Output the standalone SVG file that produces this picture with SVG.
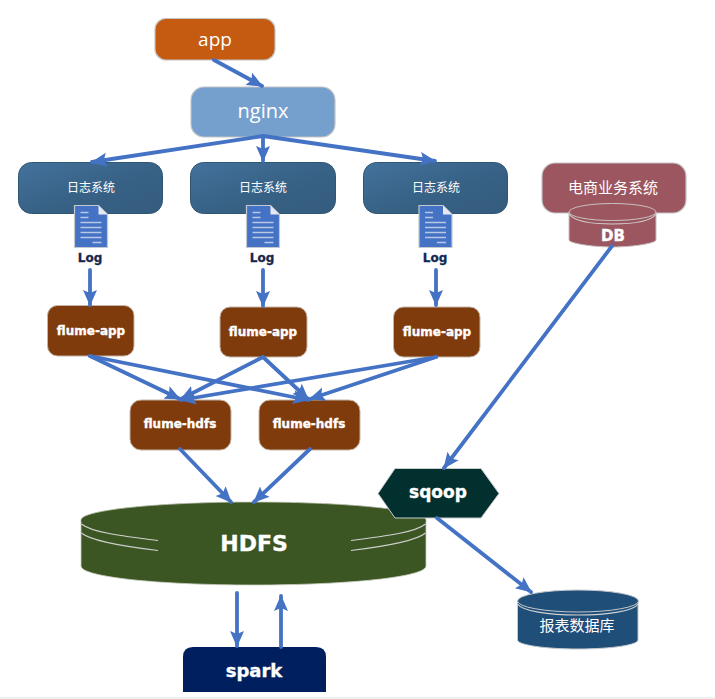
<svg xmlns="http://www.w3.org/2000/svg" width="715" height="699" viewBox="0 0 715 699">
<defs>
<style>
.b{stroke:#c4c4c4;stroke-width:1.2}
.sys{fill:url(#g);stroke:#2f5673;stroke-width:1}
.fl{fill:#7f3b0c;stroke:#c4b5a8;stroke-width:1}
.t{font-family:"DejaVu Sans","Noto Sans CJK SC",sans-serif;font-weight:700;fill:#fff;text-anchor:middle;stroke:#fff;stroke-width:.35}
.n{font-family:"Open Sans","Noto Sans CJK SC",sans-serif;fill:#fff;text-anchor:middle}
.c{font-family:"Noto Sans CJK SC",sans-serif;fill:#fff;text-anchor:middle}
.log{font-family:"DejaVu Sans",sans-serif;font-weight:700;font-size:12px;fill:#14284f;stroke:#14284f;stroke-width:.3;text-anchor:middle}
.arc{fill:none;stroke:#d0d0d0;stroke-width:1.1}
.doc{fill:#4472c4;stroke:#c4c8d0;stroke-width:1.2}
.dl{stroke:#b9c7e6;stroke-width:1.4}
#connectors line{stroke:#4472c4;stroke-width:3.8;stroke-linecap:round;marker-end:url(#a)}
</style>
<linearGradient id="g" x1="0" y1="0" x2="1" y2="1"><stop offset="0" stop-color="#44729c"/><stop offset=".55" stop-color="#376185"/><stop offset="1" stop-color="#345c7e"/></linearGradient>
<marker id="a" markerUnits="userSpaceOnUse" markerWidth="18" markerHeight="18" refX="15" refY="8" orient="auto"><path d="M0 1L16 8L0 15L3 8Z" fill="#4472c4"/></marker>
<g id="docicon"><path class="doc" d="M0 0H24L33 9V42H0Z"/><path d="M24 0L33 9H24Z" fill="#e4e8f2"/><path class="dl" d="M6 7H14M6 12H14M6 17H27M6 22H27M6 27H27M6 32H27M18 37H27"/></g>
</defs>
<rect width="715" height="699" fill="#fff"/>
<rect y="697" width="715" height="2" fill="#f0f0f0"/>

<g id="node-app"><rect class="b" x="155" y="18.500" width="120" height="41.500" rx="11" fill="#c55a11"/><text class="n" x="215" y="46" font-size="19">app</text></g>
<g id="node-nginx"><rect class="b" x="191" y="87" width="144" height="50" rx="13" fill="#759fcd"/><text class="n" x="263" y="118" font-size="20">nginx</text></g>

<g id="node-log1"><rect class="sys" x="18.500" y="162.500" width="144" height="51" rx="13"/><text class="c" x="91" y="192" font-size="12">日志系统</text></g>
<g id="node-log2"><rect class="sys" x="190.500" y="162.500" width="145" height="51" rx="13"/><text class="c" x="263" y="192" font-size="12">日志系统</text></g>
<g id="node-log3"><rect class="sys" x="363.500" y="162.500" width="144" height="51" rx="13"/><text class="c" x="436" y="192" font-size="12">日志系统</text></g>

<g id="node-file1"><use href="#docicon" x="74.500" y="205.500"/><text class="log" x="90" y="262">Log</text></g>
<g id="node-file2"><use href="#docicon" x="246.500" y="205.500"/><text class="log" x="262" y="262">Log</text></g>
<g id="node-file3"><use href="#docicon" x="419" y="205.500"/><text class="log" x="435" y="262">Log</text></g>

<g id="node-biz"><rect class="b" x="542" y="163" width="144" height="50" rx="13" fill="#9c5660"/><text class="c" x="613" y="193" font-size="15">电商业务系统</text></g>
<g id="node-db"><path d="M569 212V240C569 243 590 247 612.500 247S656 243 656 240V212Z" fill="#9c5660" stroke="#c9c0c0"/><ellipse cx="612.500" cy="212" rx="43.500" ry="8.500" fill="#9c5660" stroke="#c9c0c0"/><path class="arc" d="M569 214C574 221 592 224 612.500 224S651 221 656 214"/><text class="t" x="613" y="241" font-size="15">DB</text></g>

<g id="node-fa1"><rect class="fl" x="47.500" y="305.500" width="86.500" height="50.500" rx="10"/><text class="t" x="91" y="335" font-size="12">flume-app</text></g>
<g id="node-fa2"><rect class="fl" x="220" y="307" width="87" height="50" rx="10"/><text class="t" x="263" y="336" font-size="12">flume-app</text></g>
<g id="node-fa3"><rect class="fl" x="393.500" y="307" width="86.500" height="50" rx="10"/><text class="t" x="437" y="336" font-size="12">flume-app</text></g>
<g id="node-fh1"><rect class="fl" x="130" y="400" width="101" height="50" rx="11"/><text class="t" x="180" y="428" font-size="12">flume-hdfs</text></g>
<g id="node-fh2"><rect class="fl" x="259" y="400" width="101" height="50" rx="11"/><text class="t" x="309" y="428" font-size="12">flume-hdfs</text></g>

<g id="node-hdfs"><path d="M81 520V566C81 577 158 585 253.500 585S426 577 426 566V520Z" fill="#3b5623" stroke="#c9cdc0" stroke-width=".8"/><ellipse cx="253.500" cy="520" rx="172.500" ry="18" fill="#3b5623"/><path d="M81 520C81 510 158 502 253.500 502S426 510 426 520" fill="#3b5623" stroke="#c9cdc0" stroke-width=".8"/>
<path class="arc" d="M81.500 524C91 532 120 536 158 540.500M81.500 533C91 541 120 546 158 550.500M351 540.500C388 536 416 532 425.500 524M351 550.500C388 546 416 541 425.500 533"/><text class="t" x="254" y="551" font-size="22">HDFS</text></g>

<g id="node-sqoop"><path d="M378 493.500L395 468.500H481L499 493.500L481 518H395Z" fill="#02302f" stroke="#c8cccc"/><text class="t" x="438" y="498" font-size="17">sqoop</text></g>

<g id="node-report"><path d="M517.500 601V640C517.500 645 545 649 578 649S638 645 638 640V601Z" fill="#1f4e79" stroke="#c4c8cc"/><ellipse cx="578" cy="601" rx="60.500" ry="11" fill="#1f4e79" stroke="#c4c8cc"/><path class="arc" d="M517.500 604C522 611 548 615 578 615S634 611 638 604"/><text class="c" x="577" y="631" font-size="15">报表数据库</text></g>

<g id="node-spark"><path d="M183 692V657Q183 647 193 647H316Q326 647 326 657V692Z" fill="#001f5f"/><text class="t" x="254" y="677" font-size="18">spark</text></g>

<g id="connectors">
<line x1="214" y1="60" x2="262" y2="86"/>
<line x1="263" y1="136" x2="92" y2="162"/>
<line x1="263" y1="136" x2="263" y2="161"/>
<line x1="263" y1="136" x2="435" y2="161"/>
<line x1="90" y1="270" x2="90" y2="305"/>
<line x1="263" y1="270" x2="263" y2="306"/>
<line x1="436" y1="270" x2="436" y2="305"/>
<line x1="90" y1="356" x2="180" y2="399"/>
<line x1="90" y1="356" x2="308" y2="400"/>
<line x1="263" y1="357" x2="181" y2="399"/>
<line x1="263" y1="357" x2="308" y2="399"/>
<line x1="436" y1="357" x2="181" y2="400"/>
<line x1="436" y1="357" x2="310" y2="399"/>
<line x1="180" y1="449" x2="231" y2="502"/>
<line x1="310" y1="449" x2="254" y2="502"/>
<line x1="612" y1="246" x2="444" y2="468"/>
<line x1="437" y1="518" x2="531" y2="592"/>
<line x1="237" y1="593" x2="237" y2="646"/>
<line x1="281" y1="647" x2="281" y2="596"/>
</g>
</svg>
